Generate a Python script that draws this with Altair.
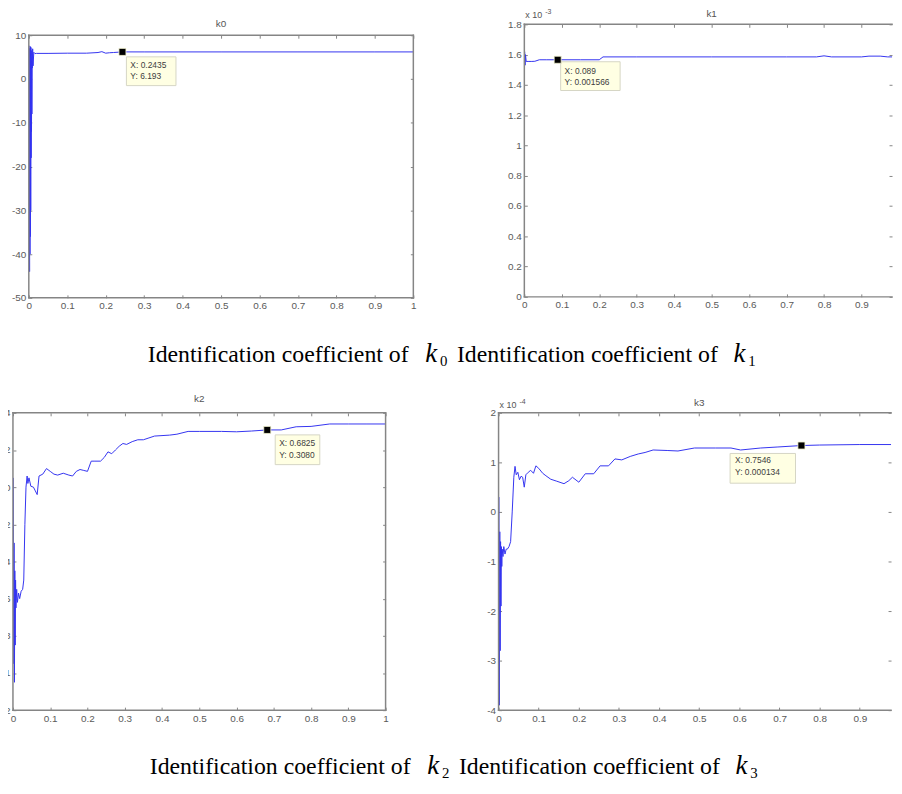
import altair as alt
import pandas as pd

# ---------------- data ----------------
x_ticks = [0, 0.1, 0.2, 0.3, 0.4, 0.5, 0.6, 0.7, 0.8, 0.9, 1]

k0_x = [0.001, 0.0015, 0.002, 0.0025, 0.003, 0.0035, 0.004, 0.0045, 0.005, 0.0055, 0.006,
        0.0065, 0.007, 0.0075, 0.008, 0.0085, 0.009, 0.010, 0.011, 0.013,
        0.016, 0.02, 0.05, 0.1, 0.15, 0.18, 0.19, 0.2, 0.21, 0.22, 0.2435, 0.3, 0.5, 0.7, 0.9, 1.0]
k0_y = [7.6, -30.0, -44.0, 7.0, -40.0, 6.8, -36.0, 7.4, -30.0, 7.2, -18.0,
        6.5, -12.0, 5.0, -8.0, 4.0, 2.5, 6.9, 3.0, 6.1,
        5.8, 5.85, 5.85, 5.9, 5.9, 6.05, 6.25, 5.9, 6.0, 6.05, 6.193, 6.19, 6.19, 6.19, 6.19, 6.19]
k0_ticks = [-50, -40, -30, -20, -10, 0, 10]
k0_tip = [0.2435, 6.193]
k0_tip_text = ["X: 0.2435", "Y: 6.193"]

k1_x = [0.001, 0.002, 0.003, 0.005, 0.01, 0.02, 0.028, 0.04, 0.06, 0.089, 0.15, 0.2, 0.21,
        0.3, 0.5, 0.7, 0.78, 0.8, 0.82, 0.9, 0.92, 0.95, 0.97, 1.0]
k1_y = [1.62, 1.53, 1.60, 1.555, 1.555, 1.555, 1.556, 1.566, 1.566, 1.566, 1.566, 1.566, 1.585,
        1.585, 1.585, 1.585, 1.585, 1.592, 1.585, 1.585, 1.59, 1.59, 1.585, 1.585]
k1_ticks = [0, 0.2, 0.4, 0.6, 0.8, 1, 1.2, 1.4, 1.6, 1.8]
k1_tip = [0.089, 1.566]
k1_tip_text = ["X: 0.089", "Y: 0.001566"]

k2_x = [0.001, 0.002, 0.003, 0.004, 0.005, 0.006, 0.007, 0.008, 0.010, 0.012, 0.015, 0.018,
        0.022, 0.026, 0.029, 0.032, 0.035, 0.038, 0.040, 0.043, 0.048, 0.055, 0.060, 0.065,
        0.070, 0.080, 0.090, 0.100, 0.110, 0.120, 0.135, 0.150, 0.160, 0.170, 0.180, 0.190,
        0.200, 0.210, 0.220, 0.235, 0.245, 0.255, 0.265, 0.275, 0.285, 0.295, 0.305, 0.320,
        0.335, 0.350, 0.365, 0.380, 0.420, 0.440, 0.470, 0.500, 0.560, 0.600, 0.640, 0.6825,
        0.720, 0.760, 0.800, 0.850, 0.900, 0.950, 1.000]
k2_y = [0.05, -0.95, -0.3, -1.05, -0.45, -0.85, -0.5, -0.65, -0.55, -0.62, -0.57, -0.6,
        -0.56, -0.55, -0.5, -0.2, 0.0, 0.06, 0.02, 0.05, 0.005, 0.0, -0.02, -0.04,
        0.06, 0.07, 0.10, 0.085, 0.07, 0.065, 0.075, 0.065, 0.06, 0.085, 0.095, 0.09,
        0.085, 0.14, 0.14, 0.14, 0.16, 0.19, 0.18, 0.2, 0.22, 0.235, 0.23, 0.245,
        0.255, 0.255, 0.265, 0.275, 0.28, 0.285, 0.3, 0.3, 0.3, 0.298, 0.302, 0.308,
        0.308, 0.325, 0.327, 0.34, 0.34, 0.34, 0.34]
k2_ticks = [-1.2, -1, -0.8, -0.6, -0.4, -0.2, 0, 0.2, 0.4]
k2_tip = [0.6825, 0.308]
k2_tip_text = ["X: 0.6825", "Y: 0.3080"]

k3_x = [0.001, 0.002, 0.003, 0.004, 0.005, 0.006, 0.007, 0.008, 0.009, 0.011, 0.013, 0.016,
        0.019, 0.022, 0.026, 0.030, 0.034, 0.038, 0.041, 0.044, 0.048, 0.052, 0.056, 0.060,
        0.064, 0.068, 0.074, 0.080, 0.087, 0.093, 0.100, 0.110, 0.118, 0.130, 0.145, 0.163,
        0.175, 0.184, 0.200, 0.216, 0.237, 0.253, 0.274, 0.290, 0.307, 0.328, 0.348, 0.365,
        0.385, 0.420, 0.447, 0.488, 0.540, 0.579, 0.603, 0.653, 0.694, 0.7546, 0.800, 0.900, 1.000]
k3_y = [0.3, -3.9, -0.4, -2.8, -0.6, -1.9, -0.7, -1.1, -0.75, -0.9, -0.7, -0.85,
        -0.75, -0.75, -0.7, -0.6, 0.0, 0.7, 0.92, 0.75, 0.8, 0.65, 0.72, 0.7,
        0.5, 0.75, 0.8, 0.84, 0.78, 0.93, 0.88, 0.78, 0.73, 0.66, 0.62, 0.57,
        0.63, 0.7, 0.6, 0.77, 0.77, 0.93, 0.93, 1.07, 1.05, 1.12, 1.17, 1.2,
        1.25, 1.24, 1.23, 1.29, 1.29, 1.29, 1.25, 1.29, 1.31, 1.34, 1.35, 1.36, 1.36]
k3_ticks = [-4, -3, -2, -1, 0, 1, 2]
k3_tip = [0.7546, 1.34]
k3_tip_text = ["X: 0.7546", "Y: 0.000134"]

caption_word = "Identification coefficient of"
caption_subs = ["0", "1", "2", "3"]

# ---------------- style ----------------
FONT = "Liberation Sans"
SERIF = "Liberation Serif"
BLUE = "#3434f0"
FRAME = "#858585"
LABEL = "#5a5a5a"
TITLE = "#555555"
TIPFILL = "#ffffe3"
TIPEDGE = "#d6d6c4"
TIPTXT = "#404040"

one = pd.DataFrame({"a": [0]})


def panel(xs, ys, yticks, width, height, top_gap, left_gap, xmax, title, title_dy, tip, tip_text,
          box_off, text_off, exp_text=None, exp_dy=-9):
    ymin, ymax = yticks[0], yticks[-1]
    cropped = xmax < 1
    xt = [v for v in x_ticks if v <= xmax]
    xend = min(1, xmax)
    df = pd.DataFrame({"x": xs, "y": ys})
    frame_h = pd.DataFrame({"x0": [0.0, 0.0], "x1": [xend, xend], "y": [ymin, ymax]})
    frame_v = pd.DataFrame({"x": [0.0] if cropped else [0.0, 1.0],
                            "y0": [ymin] * (1 if cropped else 2), "y1": [ymax] * (1 if cropped else 2)})
    tipdf = pd.DataFrame({"x": [tip[0]], "y": [tip[1]], "t1": [tip_text[0]], "t2": [tip_text[1]]})
    topdf = pd.DataFrame({"x": [0.5], "x0": [0.0], "y": [ymax], "t": [title]})

    xsc = alt.Scale(domain=[0, xmax], range=[left_gap, width], nice=False, zero=False)
    ysc = alt.Scale(domain=[ymin, ymax], range=[height, top_gap], nice=False, zero=False)
    lab = "datum.value < 0 ? '-' + format(-datum.value, '~g') : format(datum.value, '~g')"
    common = dict(domain=False, grid=False, title=None, tickSize=3, tickColor=FRAME,
                  tickWidth=1, labelFont=FONT, labelFontSize=10, labelColor=LABEL,
                  labelPadding=3, labelFlush=False, labelOverlap=False, labelExpr=lab)
    ax_b = alt.Axis(orient="bottom", values=xt, offset=-3, **common)
    ax_l = alt.Axis(orient="left", values=yticks, offset=-(3 + left_gap), **common)
    ax_t = alt.Axis(orient="top", values=xt, offset=-(3 + top_gap), labels=False, **common)
    ax_r = alt.Axis(orient="right", values=yticks, offset=-3, labels=False, **common)

    X = lambda f: alt.X(f, scale=xsc, axis=None)
    Y = lambda f: alt.Y(f, scale=ysc, axis=None)

    line = alt.Chart(df).mark_line(color=BLUE, strokeWidth=1, clip=True).encode(
        x=alt.X("x:Q", scale=xsc, axis=ax_b), y=alt.Y("y:Q", scale=ysc, axis=ax_l))
    bx0, bx1, by0, by1 = box_off
    box = alt.Chart(tipdf).mark_rect(fill=TIPFILL, stroke=TIPEDGE, strokeWidth=1,
                                     xOffset=bx0, x2Offset=bx1, yOffset=by0, y2Offset=by1).encode(
        x=X("x:Q"), x2="x", y=Y("y:Q"), y2="y")
    tdx, tdy1, tdy2 = text_off
    t1 = alt.Chart(tipdf).mark_text(align="left", baseline="middle", dx=tdx, dy=tdy1, font=FONT,
                                    fontSize=8.5, color=TIPTXT).encode(x=X("x:Q"), y=Y("y:Q"), text="t1:N")
    t2 = alt.Chart(tipdf).mark_text(align="left", baseline="middle", dx=tdx, dy=tdy2, font=FONT,
                                    fontSize=8.5, color=TIPTXT).encode(x=X("x:Q"), y=Y("y:Q"), text="t2:N")
    marker = alt.Chart(tipdf).mark_square(size=50, color="black", opacity=1, stroke="#f4f4d0",
                                          strokeWidth=0.8).encode(x=X("x:Q"), y=Y("y:Q"))
    ttl = alt.Chart(topdf).mark_text(baseline="middle", dy=title_dy, font=FONT, fontSize=10,
                                     color=TITLE).encode(x=X("x:Q"), y=Y("y:Q"), text="t:N")
    layers = [line, box, t1, t2, marker, ttl]
    if exp_text is not None:
        e1 = alt.Chart(topdf).mark_text(text="x 10", align="left", baseline="middle", dx=1, dy=exp_dy,
                                        font=FONT, fontSize=9, color=TITLE).encode(x=X("x0:Q"), y=Y("y:Q"))
        e2 = alt.Chart(topdf).mark_text(text=exp_text, align="left", baseline="middle", dx=21,
                                        dy=exp_dy - 3, font=FONT, fontSize=7, color=TITLE).encode(
            x=X("x0:Q"), y=Y("y:Q"))
        layers += [e1, e2]
    fh = alt.Chart(frame_h).mark_rule(color=FRAME, strokeWidth=1.5, strokeCap="square").encode(
        x=alt.X("x0:Q", scale=xsc, axis=ax_t), x2="x1", y=alt.Y("y:Q", scale=ysc, axis=ax_r))
    fv = alt.Chart(frame_v).mark_rule(color=FRAME, strokeWidth=1.5, strokeCap="square").encode(
        x=X("x:Q"), y=Y("y0:Q"), y2="y1")
    layers += [fh, fv]
    return alt.layer(*layers).resolve_axis(x="independent", y="independent").properties(
        width=width, height=height)


def caption(sub_a, sub_b, width, height, base, xs):
    parts = [
        (caption_word, xs[0], base, 24, "normal"),
        ("k", xs[1], base, 27, "italic"),
        (sub_a, xs[2], base + 4, 15, "normal"),
        (caption_word, xs[3], base, 24, "normal"),
        ("k", xs[4], base, 27, "italic"),
        (sub_b, xs[5], base + 4, 15, "normal"),
    ]
    layers = [alt.Chart(one).mark_text(text=t, align="left", baseline="alphabetic", font=SERIF,
                                       fontSize=fs, fontStyle=st, color="black").encode(
        x=alt.value(x), y=alt.value(y)) for (t, x, y, fs, st) in parts]
    return alt.layer(*layers).properties(width=width, height=height)


p0 = panel(k0_x, k0_y, k0_ticks, 404, 276, 11, 16, 1.0, "k0", -11, k0_tip, k0_tip_text,
           (4, 54, 5, 34), (8, 13, 24))
p1 = panel(k1_x, k1_y, k1_ticks, 371, 275, 0, 0, 0.9815, "k1", -10, k1_tip, k1_tip_text,
           (3, 63, 2, 31), (7, 11, 22), exp_text="-3", exp_dy=-9)
p2 = panel(k2_x, k2_y, k2_ticks, 376, 300, 0, 0, 1.0, "k2", -14, k2_tip, k2_tip_text,
           (8, 53, 5, 35), (12, 13, 25))
p3 = panel(k3_x, k3_y, k3_ticks, 396, 300, 0, 0, 0.9778, "k3", -10, k3_tip, k3_tip_text,
           (-72, -6, 8, 38), (-67, 15, 27), exp_text="-4", exp_dy=-8)

row1 = alt.hconcat(p0, p1, spacing=92)
row2 = alt.hconcat(p2, p3, spacing=99)
cap1 = caption(caption_subs[0], caption_subs[1], 860, 84, 52, [136, 416, 431, 448, 727, 742])
cap2 = caption(caption_subs[2], caption_subs[3], 860, 52, 51, [138, 418, 433, 450, 729, 744])

chart = alt.vconcat(row1, cap1, row2, cap2, spacing=0).properties(
    padding={"left": -16, "top": -3, "right": 0, "bottom": -4},
    background="white",
).configure_view(stroke="transparent", strokeWidth=0)

chart.save("out.html", embed_options={"renderer": "svg", "actions": False})
